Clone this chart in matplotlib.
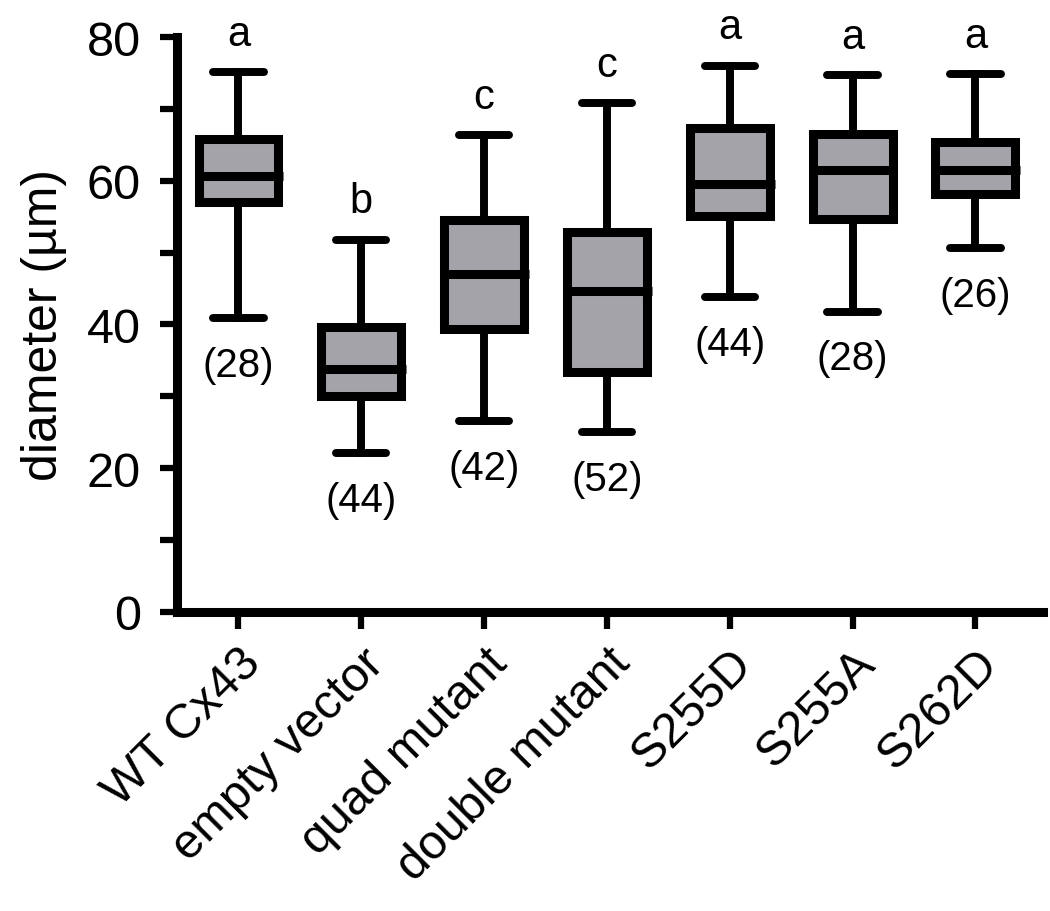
import matplotlib
matplotlib.use("Agg")
import matplotlib.pyplot as plt
from matplotlib.ticker import MultipleLocator

categories = ["WT Cx43", "empty vector", "quad mutant", "double mutant",
              "S255D", "S255A", "S262D"]
whisker_low = [40.9, 22.1, 26.6, 25.0, 43.8, 41.8, 50.6]
q1 = [57.1, 30.1, 39.4, 33.4, 55.1, 54.7, 58.2]
median = [60.6, 33.8, 47.0, 44.7, 59.6, 61.5, 61.5]
q3 = [65.8, 39.7, 54.5, 52.9, 67.3, 66.5, 65.4]
whisker_high = [75.1, 51.8, 66.3, 70.8, 76.0, 74.7, 74.8]
letters = ["a", "b", "c", "c", "a", "a", "a"]
n_counts = ["(28)", "(44)", "(42)", "(52)", "(44)", "(28)", "(26)"]

plt.rcParams['font.family'] = ['Liberation Sans', 'DejaVu Sans']

fig = plt.figure(figsize=(10.5, 9.12), dpi=100)
ax = fig.add_axes([0.1686, 0.3279, 0.9933 - 0.1686, 0.9583 - 0.3279])

stats = []
for i, c in enumerate(categories):
    stats.append(dict(label=c, whislo=whisker_low[i], q1=q1[i], med=median[i],
                      q3=q3[i], whishi=whisker_high[i], fliers=[]))

lw = 6.5
positions = list(range(len(categories)))
res = ax.bxp(stats, positions=positions, widths=0.65, capwidths=0.41,
             patch_artist=True, showfliers=False,
             boxprops=dict(facecolor="#a4a3aa", edgecolor="black", linewidth=lw),
             medianprops=dict(color="black", linewidth=lw, solid_capstyle="butt"),
             whiskerprops=dict(color="black", linewidth=lw * 0.88),
             capprops=dict(color="black", linewidth=lw * 0.88, solid_capstyle="round"))
for m in res["medians"]:
    xd = list(m.get_xdata())
    xd[-1] = xd[-1] + 0.04
    m.set_xdata(xd)

for i in range(len(categories)):
    ax.text(positions[i], whisker_high[i] + 3.8, letters[i], ha="center",
            va="baseline", fontsize=30)
    ax.text(positions[i], whisker_low[i] - 6.5, n_counts[i], ha="center",
            va="center", fontsize=29)

ax.set_xlim(-0.5, 6.55)
ax.set_ylim(0, 80)
ax.set_yticks([0, 20, 40, 60, 80])
ax.yaxis.set_minor_locator(MultipleLocator(10))
ax.set_xticks(positions)
ax.set_xticklabels(categories, rotation=45, ha="right", rotation_mode="anchor",
                   fontsize=35)
ax.tick_params(axis="y", labelsize=35, width=4.5, length=12, pad=14)
ax.tick_params(axis="y", which="minor", width=4.5, length=12)
ax.tick_params(axis="x", width=4.5, length=12, pad=8)
for s in ["top", "right"]:
    ax.spines[s].set_visible(False)
for s in ["left", "bottom"]:
    ax.spines[s].set_linewidth(6.5)
ax.set_ylabel("diameter (µm)", fontsize=36, labelpad=14)

fig.savefig("out.png", dpi=100)
